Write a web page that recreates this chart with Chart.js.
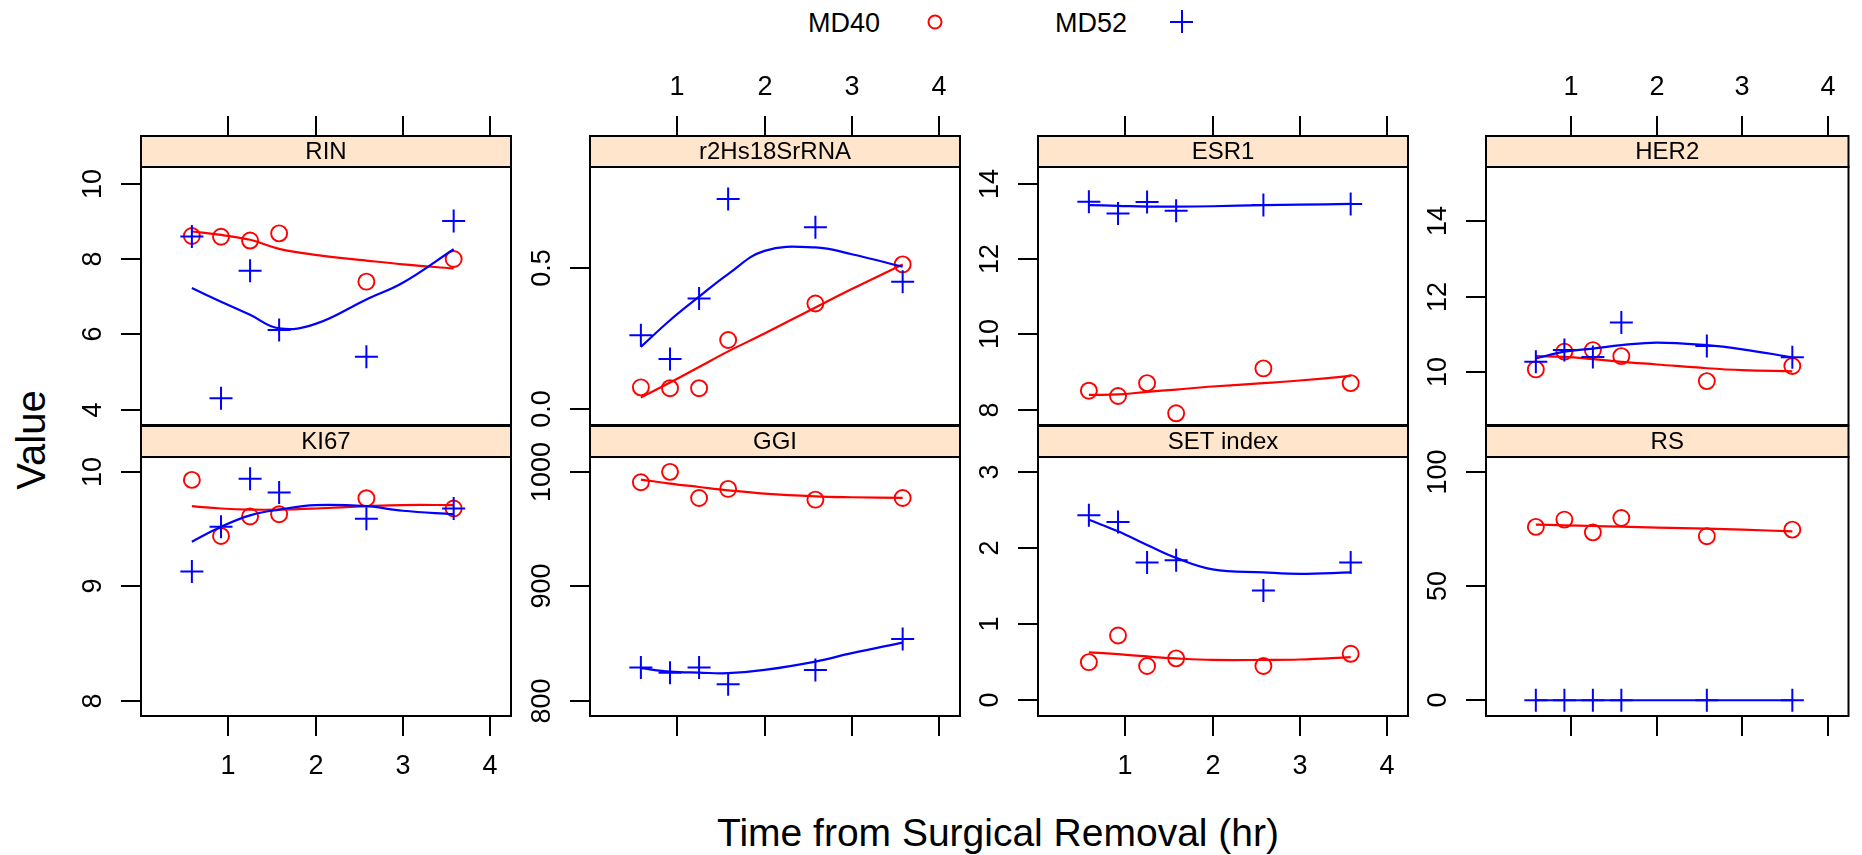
<!DOCTYPE html>
<html>
<head>
<meta charset="utf-8">
<script src="https://cdn.jsdelivr.net/npm/chart.js@4.4.1/dist/chart.umd.min.js"></script>
<style>
html,body{margin:0;padding:0;background:#fff}
#fig{position:relative;width:1862px;height:855px;overflow:hidden;font-family:"Liberation Sans",Arial,Helvetica,sans-serif;color:#000}
#fig canvas{position:absolute;left:0;top:0}
.lab{position:absolute;white-space:nowrap;line-height:1;transform:translate(-50%,-50%)}
.circ{position:absolute;width:11px;height:11px;border:2px solid #f00;border-radius:50%;transform:translate(-50%,-50%)}
.plus{position:absolute;background:#00f}
</style>
</head>
<body>
<div id="fig">
  <div class="lab" style="left:844px;top:23px;font-size:27px">MD40</div>
  <div class="circ" style="left:935px;top:22px"></div>
  <div class="lab" style="left:1091px;top:23px;font-size:27px">MD52</div>
  <div class="plus" style="left:1170px;top:21px;width:23px;height:2px"></div>
  <div class="plus" style="left:1181px;top:10px;width:2px;height:23px"></div>
  <div class="lab" style="left:31px;top:440px;font-size:40px;transform:translate(-50%,-50%) rotate(-90deg)">Value</div>
  <div class="lab" style="left:998px;top:832px;font-size:39px">Time from Surgical Removal (hr)</div>
</div>
<script>
// sampling times (hr) and x grid of the smoothed curves
const times = [0.583, 0.917, 1.25, 1.583, 2.583, 3.583];
const smoothX = [0.583, 0.917, 1.25, 1.583, 2.0, 2.583, 3.0, 3.583];
const xTicks = [1, 2, 3, 4];

const rinMD40 = [8.61, 8.59, 8.49, 8.68, 7.40, 8.00];
const rinMD52 = [8.60, 4.31, 7.69, 6.12, 5.41, 9.01];
const rinFit40 = [8.73, 8.64, 8.51, 8.27, 8.11, 7.96, 7.86, 7.75];
const rinFit52 = [7.23, 6.87, 6.52, 6.16, 6.28, 6.93, 7.37, 8.26];
const rinTicks = [4, 6, 8, 10];

const r2MD40 = [0.078, 0.075, 0.075, 0.245, 0.374, 0.512];
const r2MD52 = [0.262, 0.178, 0.392, 0.743, 0.643, 0.451];
const r2Fit40 = [0.042, 0.095, 0.150, 0.205, 0.268, 0.360, 0.425, 0.512];
const r2Fit52 = [0.221, 0.315, 0.398, 0.478, 0.560, 0.572, 0.548, 0.504];
const r2Ticks = [0.0, 0.5];

const esrMD40 = [8.51, 8.37, 8.71, 7.91, 9.10, 8.71];
const esrMD52 = [13.52, 13.21, 13.51, 13.28, 13.43, 13.46];
const esrFit40 = [8.40, 8.41, 8.48, 8.54, 8.62, 8.71, 8.78, 8.90];
const esrFit52 = [13.43, 13.41, 13.39, 13.39, 13.40, 13.43, 13.44, 13.46];
const esrTicks = [8, 10, 12, 14];

const her2MD40 = [10.08, 10.55, 10.59, 10.43, 9.77, 10.17];
const her2MD52 = [10.28, 10.59, 10.41, 11.32, 10.70, 10.40];
const her2Fit40 = [10.43, 10.41, 10.35, 10.28, 10.21, 10.11, 10.06, 10.03];
const her2Fit52 = [10.37, 10.55, 10.63, 10.72, 10.79, 10.72, 10.61, 10.40];
const her2Ticks = [10, 12, 14];

const ki67MD40 = [9.93, 9.44, 9.61, 9.63, 9.77, 9.68];
const ki67MD52 = [9.13, 9.52, 9.94, 9.82, 9.59, 9.68];
const ki67Fit40 = [9.70, 9.68, 9.67, 9.67, 9.68, 9.70, 9.71, 9.71];
const ki67Fit52 = [9.39, 9.52, 9.62, 9.67, 9.71, 9.70, 9.66, 9.63];
const ki67Ticks = [8, 9, 10];

const ggiMD40 = [990.9, 1000.0, 977.2, 985.1, 975.7, 977.2];
const ggiMD52 = [828.9, 824.5, 828.9, 814.4, 826.9, 853.8];
const ggiFit40 = [993.3, 989.8, 986.8, 983.9, 981.0, 978.6, 977.8, 977.2];
const ggiFit52 = [828.4, 825.4, 824.5, 824.0, 826.9, 834.2, 841.5, 850.8];
const ggiTicks = [800, 900, 1000];

const setMD40 = [0.50, 0.85, 0.45, 0.55, 0.45, 0.61];
const setMD52 = [2.43, 2.34, 1.81, 1.84, 1.44, 1.81];
const setFit40 = [0.63, 0.605, 0.575, 0.55, 0.53, 0.53, 0.535, 0.566];
const setFit52 = [2.37, 2.22, 2.04, 1.87, 1.72, 1.68, 1.66, 1.68];
const setTicks = [0, 1, 2, 3];

const rsMD40 = [75.9, 79.1, 73.5, 79.8, 71.8, 74.7];
const rsMD52 = [0, 0, 0, 0, 0, 0];
const rsFit40 = [76.9, 76.6, 76.3, 76.0, 75.6, 75.1, 74.7, 73.9];
const rsFit52 = [0, 0, 0, 0, 0, 0, 0, 0];
const rsTicks = [0, 50, 100];

const panels = [
  {title:"RIN", row:0, col:0, md40:rinMD40, md52:rinMD52, fit40:rinFit40, fit52:rinFit52, ticks:rinTicks, min:3.60, max:10.44, dec:0},
  {title:"r2Hs18SrRNA", row:0, col:1, md40:r2MD40, md52:r2MD52, fit40:r2Fit40, fit52:r2Fit52, ticks:r2Ticks, min:-0.055, max:0.856, dec:1},
  {title:"ESR1", row:0, col:2, md40:esrMD40, md52:esrMD52, fit40:esrFit40, fit52:esrFit52, ticks:esrTicks, min:7.60, max:14.44, dec:0},
  {title:"HER2", row:0, col:3, md40:her2MD40, md52:her2MD52, fit40:her2Fit40, fit52:her2Fit52, ticks:her2Ticks, min:8.61, max:15.43, dec:0},
  {title:"KI67", row:1, col:0, md40:ki67MD40, md52:ki67MD52, fit40:ki67Fit40, fit52:ki67Fit52, ticks:ki67Ticks, min:7.866, max:10.13, dec:0},
  {title:"GGI", row:1, col:1, md40:ggiMD40, md52:ggiMD52, fit40:ggiFit40, fit52:ggiFit52, ticks:ggiTicks, min:786.6, max:1013.0, dec:0},
  {title:"SET index", row:1, col:2, md40:setMD40, md52:setMD52, fit40:setFit40, fit52:setFit52, ticks:setTicks, min:-0.207, max:3.195, dec:0},
  {title:"RS", row:1, col:3, md40:rsMD40, md52:rsMD52, fit40:rsFit40, fit52:rsFit52, ticks:rsTicks, min:-6.9, max:106.5, dec:0}
];

const W = 1862, H = 855;
const colLeft = [141, 590, 1038, 1486], panelW = 370;
const rowTop = [167, 457], rowBottom = [425, 716], stripH = 31;
const RED = "#ff0000", BLUE = "#0000ff";
const FONT = '"Liberation Sans", Arial, sans-serif';

const framePlugin = {
  id: "frame",
  afterDatasetsDraw(chart, args, o) {
    const {ctx, chartArea: a, scales: {x, y}} = chart;
    const line = (x1, y1, x2, y2) => { ctx.beginPath(); ctx.moveTo(x1, y1); ctx.lineTo(x2, y2); ctx.stroke(); };
    ctx.save();
    ctx.strokeStyle = "#000"; ctx.lineWidth = 2;
    const sTop = a.top - stripH;
    ctx.fillStyle = "#ffe5cc";
    ctx.fillRect(a.left, sTop, a.right - a.left, stripH);
    ctx.strokeRect(a.left, sTop, a.right - a.left, stripH);
    ctx.strokeRect(a.left, a.top, a.right - a.left, a.bottom - a.top);
    ctx.fillStyle = "#000";
    ctx.textAlign = "center"; ctx.textBaseline = "middle";
    ctx.font = "24px " + FONT;
    ctx.fillText(o.title, (a.left + a.right) / 2, sTop + stripH / 2 + 1);
    ctx.font = "27px " + FONT;
    xTicks.forEach(v => {
      const px = Math.round(x.getPixelForValue(v));
      if (o.row === 0) {
        line(px, sTop - 20, px, sTop);
        if (o.col % 2 === 1) ctx.fillText(String(v), px, sTop - 48);
      } else {
        line(px, a.bottom, px, a.bottom + 20);
        if (o.col % 2 === 0) ctx.fillText(String(v), px, a.bottom + 51);
      }
    });
    o.ticks.forEach(v => {
      const py = Math.round(y.getPixelForValue(v));
      line(a.left - 20, py, a.left, py);
      ctx.save();
      ctx.translate(a.left - 47, py);
      ctx.rotate(-Math.PI / 2);
      ctx.fillText(v.toFixed(o.dec), 0, 0);
      ctx.restore();
    });
    ctx.restore();
  }
};

const fig = document.getElementById("fig");
const pts = (xs, ys) => xs.map((v, i) => ({x: v, y: ys[i]}));

panels.forEach(p => {
  const cv = document.createElement("canvas");
  cv.width = W; cv.height = H;
  fig.appendChild(cv);
  const left = colLeft[p.col], right = left + panelW;
  new Chart(cv, {
    type: "scatter",
    data: {
      datasets: [
        {data: pts(smoothX, p.fit52), showLine: true, borderColor: BLUE, borderWidth: 2.2, pointRadius: 0, tension: 0.4},
        {data: pts(times, p.md52), pointStyle: "cross", pointRadius: 11.5, pointHoverRadius: 11.5, borderColor: BLUE, borderWidth: 2, backgroundColor: "transparent"},
        {data: pts(smoothX, p.fit40), showLine: true, borderColor: RED, borderWidth: 2.2, pointRadius: 0, tension: 0.4},
        {data: pts(times, p.md40), pointStyle: "circle", pointRadius: 8, pointHoverRadius: 8, borderColor: RED, borderWidth: 1.9, backgroundColor: "transparent"}
      ]
    },
    options: {
      responsive: false,
      devicePixelRatio: 1,
      animation: false,
      events: [],
      layout: {padding: {left: left, right: W - right, top: rowTop[p.row], bottom: H - rowBottom[p.row]}},
      scales: {
        x: {type: "linear", min: 0, max: 4.24, display: false},
        y: {type: "linear", min: p.min, max: p.max, display: false}
      },
      plugins: {
        legend: {display: false},
        tooltip: {enabled: false},
        frame: {title: p.title, row: p.row, col: p.col, ticks: p.ticks, dec: p.dec}
      }
    },
    plugins: [framePlugin]
  });
});
</script>
</body>
</html>
